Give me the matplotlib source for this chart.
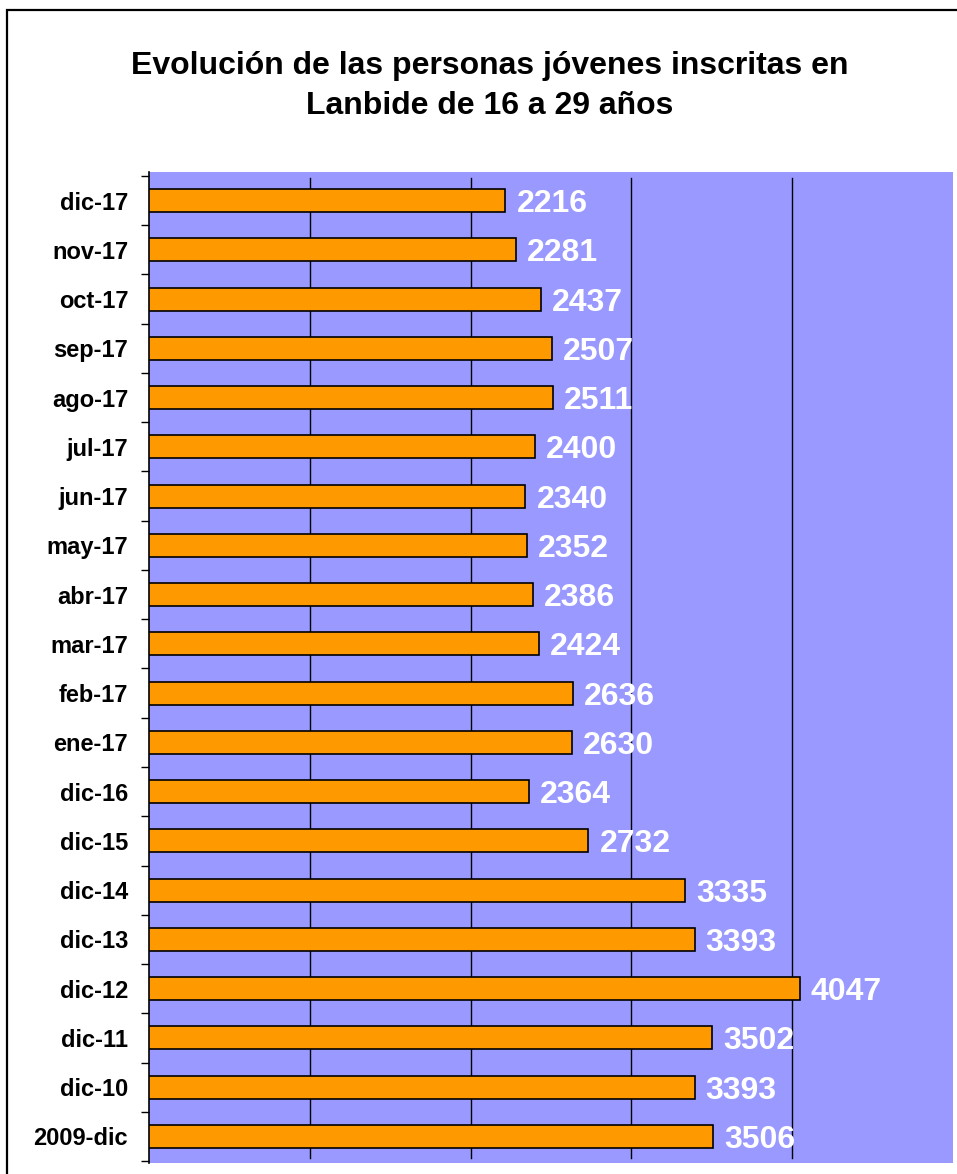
import matplotlib.pyplot as plt
from matplotlib.patches import Rectangle

plt.rcParams["font.family"] = ["Liberation Sans", "DejaVu Sans"]

# data, bottom to top as drawn
periods = ["2009-dic", "dic-10", "dic-11", "dic-12", "dic-13", "dic-14", "dic-15",
           "dic-16", "ene-17", "feb-17", "mar-17", "abr-17", "may-17", "jun-17",
           "jul-17", "ago-17", "sep-17", "oct-17", "nov-17", "dic-17"]
jovenes = [3506, 3393, 3502, 4047, 3393, 3335, 2732,
           2364, 2630, 2636, 2424, 2386, 2352, 2340,
           2400, 2511, 2507, 2437, 2281, 2216]
grid_x = [1000, 2000, 3000, 4000]

fig = plt.figure(figsize=(9.57, 11.74), dpi=100)
fig.patch.set_facecolor("white")

# chart frame (only left and top visible in the crop)
fig.patches.append(Rectangle((7.5 / 957, -0.05), 1.2, 1.05 - 9.5 / 1174,
                             transform=fig.transFigure, fill=False,
                             edgecolor="black", linewidth=1.6, zorder=0))

ax = fig.add_axes([149 / 957, 11 / 1174, (953 - 149) / 957, (1163 - 172) / 1174])
ax.set_facecolor("#9999FF")

y = range(len(periods))
ax.barh(y, jovenes, height=0.47, color="#FF9900", edgecolor="black",
        linewidth=1.2, zorder=3)

for gx in grid_x:
    ax.axvline(gx, ymin=0.005, ymax=0.994, color="black", linewidth=1, zorder=2)

for yi, val in zip(y, jovenes):
    ax.annotate(str(val), (val, yi), xytext=(8, -2.5), textcoords="offset points",
                ha="left", va="center", color="white", fontsize=23,
                fontweight="bold", zorder=4)

ax.set_xlim(0, 5000)
ax.set_ylim(-0.54, len(periods) - 0.42)
ax.set_xticks([])
ax.set_yticks(list(y))
ax.set_yticklabels(periods, fontsize=17, fontweight="bold")
ax.set_yticks([i - 0.5 for i in range(len(periods) + 1)], minor=True)
ax.tick_params(axis="y", which="major", length=0, pad=15)
ax.tick_params(axis="y", which="minor", length=6, width=1, direction="out")

for side in ["top", "right", "bottom"]:
    ax.spines[side].set_visible(False)
ax.spines["left"].set_linewidth(1.2)

fig.text(490 / 957, 1 - 86 / 1174,
         "Evolución de las personas jóvenes inscritas en\nLanbide de 16 a 29 años",
         ha="center", va="center", fontsize=23, fontweight="bold",
         linespacing=1.45)

fig.savefig("out.png", dpi=100)
